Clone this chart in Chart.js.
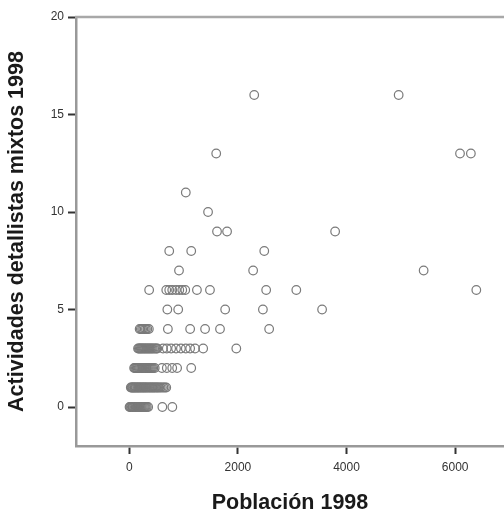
<!DOCTYPE html>
<html><head><meta charset="utf-8">
<script src="https://cdn.jsdelivr.net/npm/chart.js@4.4.1/dist/chart.umd.min.js"></script>
<style>html,body{margin:0;padding:0;background:#fff}</style>
</head><body>
<canvas id="c" width="504" height="512"></canvas>
<script>
// Tick labels
const xTicks = [0, 2000, 4000, 6000];
const yTicks = [0, 5, 10, 15, 20];

// Población 1998 for each value of "Actividades detallistas mixtos 1998"
const nivelesActividad = [0, 1, 2, 3, 4, 5, 6, 7, 8, 9, 10, 11, 13, 16];
const pob0  = [4, 18, 31, 47, 60, 72, 88, 103, 117, 134, 150, 163, 181, 196, 214, 229, 247, 266, 283, 301, 322, 347, 608, 792];
const pob1  = [27, 41, 58, 70, 86, 99, 115, 128, 146, 159, 175, 192, 207, 224, 240, 258, 271, 290, 305, 323, 340, 361, 378, 396, 415, 433, 452, 470, 492, 511, 530, 552, 575, 601, 628, 655, 680];
const pob2  = [88, 104, 121, 137, 152, 170, 186, 203, 221, 238, 254, 273, 290, 308, 326, 344, 362, 381, 400, 420, 441, 468, 600, 690, 790, 880, 1140];
const pob3  = [160, 176, 193, 210, 226, 244, 262, 280, 297, 316, 334, 353, 371, 390, 410, 430, 452, 475, 498, 515, 620, 690, 770, 860, 950, 1040, 1120, 1210, 1360, 1970];
const pob4  = [190, 212, 236, 258, 283, 306, 332, 360, 710, 1120, 1395, 1670, 2575];
const pob5  = [700, 900, 1765, 2460, 3550];
const pob6  = [365, 680, 735, 790, 860, 920, 975, 1030, 1245, 1485, 2520, 3075, 6390];
const pob7  = [915, 2280, 5420];
const pob8  = [735, 1140, 2485];
const pob9  = [1615, 1800, 3790];
const pob10 = [1450];
const pob11 = [1040];
const pob13 = [1600, 6090, 6290];
const pob16 = [2300, 4960];
const poblaciones = [pob0, pob1, pob2, pob3, pob4, pob5, pob6, pob7, pob8, pob9, pob10, pob11, pob13, pob16];

const puntos = [];
nivelesActividad.forEach((n, i) => poblaciones[i].forEach(p => puntos.push({x: p, y: n})));

const topLine = {
  id: 'topLine',
  afterDraw(chart) {
    const a = chart.chartArea, ctx = chart.ctx;
    ctx.save();
    ctx.strokeStyle = '#a8a8a8';
    ctx.lineWidth = 2.5;
    ctx.beginPath();
    ctx.moveTo(a.left - 1, a.top);
    ctx.lineTo(a.right + 10, a.top);
    ctx.stroke();
    ctx.restore();
  }
};

const tickFont = {family: '"Liberation Sans", Arial, sans-serif', size: 12};
const titleFont = {family: '"Liberation Sans", Arial, sans-serif', size: 21.5, weight: 'bold'};

new Chart(document.getElementById('c'), {
  type: 'scatter',
  data: {
    datasets: [{
      data: puntos,
      pointStyle: 'circle',
      pointRadius: 4.3,
      pointHoverRadius: 4.3,
      borderColor: '#7a7a7a',
      borderWidth: 1.2,
      backgroundColor: 'rgba(0,0,0,0)'
    }]
  },
  options: {
    responsive: false,
    animation: false,
    devicePixelRatio: 1,
    layout: {autoPadding: false, padding: {top: 17, right: 0, left: 0, bottom: 0}},
    plugins: {legend: {display: false}, tooltip: {enabled: false}},
    scales: {
      x: {
        type: 'linear',
        min: -982,
        max: 6900,
        afterBuildTicks: s => { s.ticks = xTicks.map(v => ({value: v})); },
        afterFit: s => { s.height = 66; s.paddingLeft = 0; s.paddingRight = 0; },
        border: {display: true, color: '#999', width: 2.5},
        grid: {display: true, drawOnChartArea: false, drawTicks: true, tickLength: 8, tickColor: '#333', tickWidth: 2},
        ticks: {font: tickFont, color: '#333', padding: 6, maxRotation: 0, autoSkip: false, callback: v => String(v)},
        title: {display: true, text: 'Población 1998', color: '#1a1a1a', font: {...titleFont, lineHeight: 0.82}, padding: 0}
      },
      y: {
        type: 'linear',
        min: -2,
        max: 20,
        afterBuildTicks: s => { s.ticks = yTicks.map(v => ({value: v})); },
        afterFit: s => { s.width = 76; s.paddingTop = 0; s.paddingBottom = 0; },
        border: {display: true, color: '#999', width: 2.5},
        grid: {display: true, drawOnChartArea: false, drawTicks: true, tickLength: 8, tickColor: '#333', tickWidth: 2},
        ticks: {font: tickFont, color: '#333', padding: 4, autoSkip: false, callback: v => String(v)},
        title: {display: true, text: 'Actividades detallistas mixtos 1998', color: '#1a1a1a', font: titleFont, padding: {top: 4, bottom: 0}}
      }
    }
  },
  plugins: [topLine]
});
</script>
</body></html>
